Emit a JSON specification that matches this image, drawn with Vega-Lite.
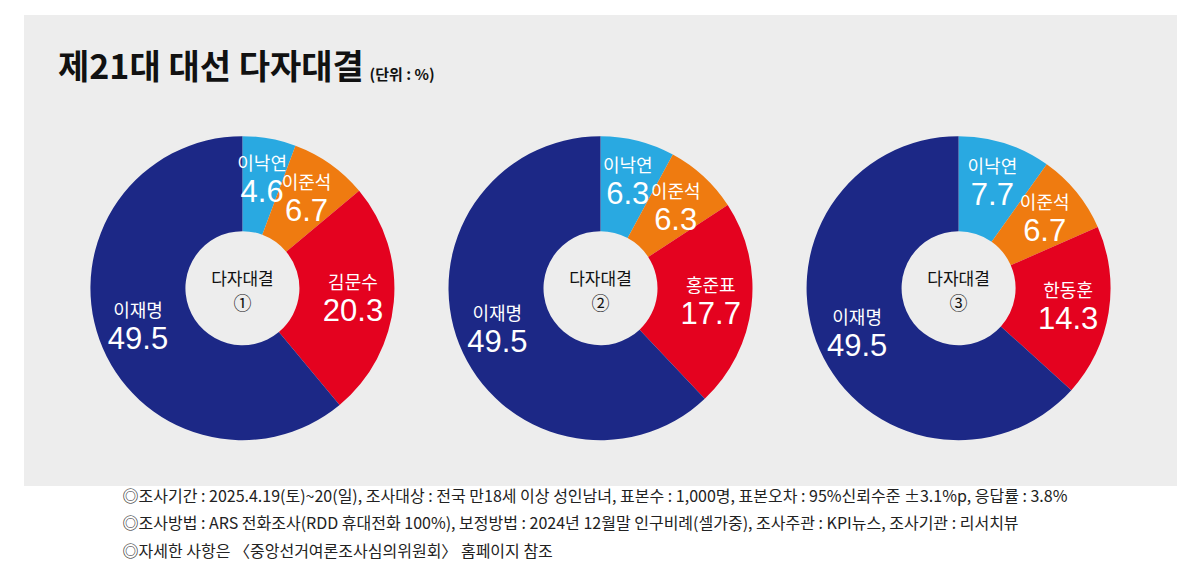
{
  "$schema": "https://vega.github.io/schema/vega-lite/v6.json",
  "autosize": {"type": "none"},
  "width": 1153,
  "height": 471,
  "padding": {"left": 24, "top": 15, "right": 9, "bottom": 96},
  "background": "#ffffff",
  "title": {
    "text": "제21대 대선 다자대결",
    "anchor": "start",
    "frame": "group",
    "orient": "top",
    "offset": 0,
    "dx": 34,
    "dy": 98,
    "baseline": "alphabetic",
    "font": "Noto Sans CJK KR",
    "fontSize": 34,
    "fontWeight": "bold",
    "color": "#111111"
  },
  "config": {
    "view": {"fill": "#ededed", "stroke": null},
    "font": "Noto Sans CJK KR"
  },
  "data": {
    "values": [
      {"poll": "①", "seq": 1, "name": "이낙연", "camp": "새로운미래", "value": 4.6},
      {"poll": "①", "seq": 2, "name": "이준석", "camp": "개혁신당", "value": 6.7},
      {"poll": "①", "seq": 3, "name": "김문수", "camp": "국민의힘", "value": 20.3},
      {"poll": "①", "seq": 4, "name": "이재명", "camp": "더불어민주당", "value": 49.5},
      {"poll": "②", "seq": 1, "name": "이낙연", "camp": "새로운미래", "value": 6.3},
      {"poll": "②", "seq": 2, "name": "이준석", "camp": "개혁신당", "value": 6.3},
      {"poll": "②", "seq": 3, "name": "홍준표", "camp": "국민의힘", "value": 17.7},
      {"poll": "②", "seq": 4, "name": "이재명", "camp": "더불어민주당", "value": 49.5},
      {"poll": "③", "seq": 1, "name": "이낙연", "camp": "새로운미래", "value": 7.7},
      {"poll": "③", "seq": 2, "name": "이준석", "camp": "개혁신당", "value": 6.7},
      {"poll": "③", "seq": 3, "name": "한동훈", "camp": "국민의힘", "value": 14.3},
      {"poll": "③", "seq": 4, "name": "이재명", "camp": "더불어민주당", "value": 49.5}
    ]
  },
  "transform": [
    {
      "stack": "value",
      "groupby": ["poll"],
      "sort": [{"field": "seq", "order": "ascending"}],
      "offset": "normalize",
      "as": ["t0", "t1"]
    },
    {"calculate": "(datum.t0 + datum.t1) / 2", "as": "mid"}
  ],
  "encoding": {
    "x": {
      "field": "poll",
      "type": "nominal",
      "scale": {"type": "point", "padding": 0.61, "domain": ["①", "②", "③"]},
      "axis": {
        "labels": false,
        "ticks": false,
        "domain": false,
        "grid": false,
        "title": [
          "◎조사기간 : 2025.4.19(토)~20(일), 조사대상 : 전국 만18세 이상 성인남녀, 표본수 : 1,000명, 표본오차 : 95%신뢰수준 ±3.1%p, 응답률 : 3.8%",
          "◎조사방법 : ARS 전화조사(RDD 휴대전화 100%), 보정방법 : 2024년 12월말 인구비례(셀가중), 조사주관 : KPI뉴스, 조사기관 : 리서치뷰",
          "◎자세한 사항은 〈중앙선거여론조사심의위원회〉 홈페이지 참조"
        ],
        "titleX": 98,
        "titleY": 2,
        "titleAlign": "left",
        "titleBaseline": "top",
        "titleAngle": 0,
        "titleFont": "Noto Sans CJK KR",
        "titleFontSize": 16,
        "titleFontWeight": "normal",
        "titleColor": "#222222",
        "titleLineHeight": 27.5
      }
    },
    "y": {
      "datum": 0,
      "type": "quantitative",
      "scale": {"domain": [-0.42, 0.58]},
      "axis": {
        "labels": false,
        "ticks": false,
        "domain": false,
        "grid": false,
        "title": "(단위 : %)",
        "titleAngle": 0,
        "titleX": 345,
        "titleY": 64,
        "titleAlign": "left",
        "titleBaseline": "alphabetic",
        "titleFont": "Noto Sans CJK KR",
        "titleFontSize": 15,
        "titleFontWeight": "bold",
        "titleColor": "#111111"
      }
    }
  },
  "layer": [
    {
      "mark": {"type": "arc", "outerRadius": 152, "innerRadius": 57},
      "encoding": {
        "theta": {"field": "t0", "type": "quantitative", "stack": null, "scale": {"domain": [0, 1]}},
        "theta2": {"field": "t1"},
        "color": {
          "field": "camp",
          "type": "nominal",
          "legend": null,
          "scale": {
            "domain": ["더불어민주당", "새로운미래", "개혁신당", "국민의힘"],
            "range": ["#1c2886", "#29a9e1", "#ef7b10", "#e4021f"]
          }
        }
      }
    },
    {
      "mark": {"type": "text", "radius": 111, "dy": -14, "font": "Noto Sans CJK KR", "fontSize": 18, "color": "#ffffff", "align": "center", "baseline": "middle"},
      "encoding": {
        "theta": {"field": "mid", "type": "quantitative", "stack": null},
        "text": {"field": "name"}
      }
    },
    {
      "mark": {"type": "text", "radius": 111, "dy": 14, "font": "Liberation Sans", "fontSize": 31, "color": "#ffffff", "align": "center", "baseline": "middle"},
      "encoding": {
        "theta": {"field": "mid", "type": "quantitative", "stack": null},
        "text": {"field": "value", "format": ".1f"}
      }
    },
    {
      "transform": [{"filter": "datum.seq === 1"}],
      "mark": {"type": "text", "dy": -8, "font": "Noto Sans CJK KR", "fontSize": 17, "color": "#111111", "align": "center", "baseline": "middle"},
      "encoding": {"text": {"value": "다자대결"}}
    },
    {
      "transform": [{"filter": "datum.seq === 1"}],
      "mark": {"type": "text", "dy": 17, "font": "Noto Sans CJK KR", "fontSize": 18, "color": "#111111", "align": "center", "baseline": "middle"},
      "encoding": {"text": {"field": "poll"}}
    }
  ]
}
